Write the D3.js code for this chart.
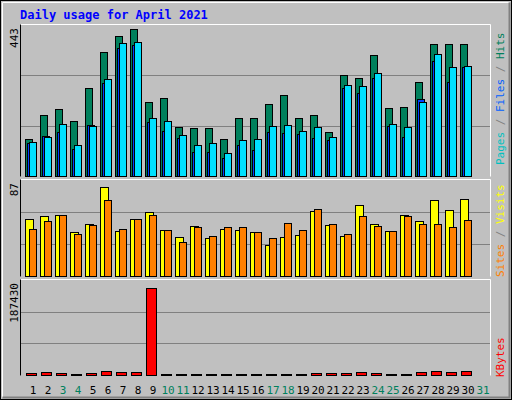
<!DOCTYPE html><html><head><script src="https://cdn.jsdelivr.net/npm/d3@7"></script>
<style>body{margin:0;background:#fff}</style></head><body><svg id="c" width="512" height="400"></svg>
<script>
const days=d3.range(1,32);
const hits=[109,180,197,162,259,365,412,432,218,230,145,142,142,109,171,171,212,239,171,180,130,297,288,356,200,203,277,388,388,388,0];
const files=[101,115,153,92,148,285,391,394,171,162,121,92,98,68,107,109,148,151,133,145,115,268,265,303,153,145,218,359,321,324,0];
const pages=[98,118,130,80,151,274,376,385,159,133,112,71,71,54,92,77,130,127,124,112,107,259,244,288,148,115,227,338,277,321,0];
const visits=[52,54,55,40,47,81,41,52,58,42,35,45,34,43,42,40,28,35,37,59,46,36,64,47,41,55,50,69,60,70,0];
const sites=[43,50,55,38,46,69,43,52,55,42,31,44,36,44,44,40,34,48,42,61,47,38,54,45,41,54,47,47,44,51,0];
const kbytes=[3800,5700,3800,1900,3800,7600,5700,5700,172280,1900,1900,1900,1900,1900,1900,1900,1900,1900,1900,3800,3800,3800,5700,3800,1900,1900,5700,7600,5700,7600,0];
const weekend=[3,4,10,11,17,18,24,25,31];
const maxHits=443,maxVisits=87,maxKB=187430;
const svg=d3.select("#c");
svg.append("rect").attr("width",512).attr("height",400).attr("fill","#c0c0c0");
svg.append("rect").attr("x",0.5).attr("y",0.5).attr("width",511).attr("height",399).attr("fill","none").attr("stroke","#000");
svg.append("path").attr("d","M2.5,397.5V2.5H509.5").attr("fill","none").attr("stroke","#fff");
svg.append("path").attr("d","M2.5,397.5H509.5V2.5").attr("fill","none").attr("stroke","#808080").attr("stroke-width",2);
const F="DejaVu Sans Mono, monospace";
svg.append("text").attr("x",20).attr("y",19).attr("fill","#0000ff").attr("font-family",F).attr("font-weight","bold").attr("font-size",12).text("Daily usage for April 2021");
const x=d3.scaleLinear().domain([0,1]).range([18,33]);
function panel(y0,y1,max){
  const y=d3.scaleLinear().domain([0,max]).range([y1,y0]);
  for(let i=1;i<3;i++) svg.append("line").attr("x1",21).attr("x2",490).attr("y1",Math.round(y(max*i/3))+.5).attr("y2",Math.round(y(max*i/3))+.5).attr("stroke","#808080");
  svg.append("path").attr("d",`M20.5,${y1+0.5}V${y0-0.5}H490.5V${y1+0.5}`).attr("fill","none").attr("stroke","#fff");
  svg.append("path").attr("d",`M20.5,${y1+0.5}V${y0-0.5}`).attr("fill","none").attr("stroke","#000");
  svg.append("text").attr("transform",`translate(18,${y0+3}) rotate(-90)`).attr("text-anchor","end").attr("font-family",F).attr("font-size",11).text(d3.format("d")(max));
  return y;
}
function bars(data,y,off,w,fill){
  svg.append("g").selectAll("rect").data(data.map((v,i)=>[i+1,v]).filter(d=>d[1]>0)).join("rect")
   .attr("x",d=>x(d[0]-1)+off+.5).attr("width",w).attr("y",d=>Math.round(y(d[1]))+.5)
   .attr("height",d=>Math.max(0,y(0)-Math.round(y(d[1])))).attr("fill",fill).attr("stroke","#000");
}
const y1=panel(25,176,maxHits);
bars(hits,y1,7,7,"#00805c");bars(pages,y1,9,7,"#0040ff");bars(files,y1,11,7,"#00e0ff");
const y2=panel(180,276,maxVisits);
bars(visits,y2,7,8,"#ffff00");bars(sites,y2,11,7,"#ff8000");
const y3=panel(280,375,maxKB);
bars(kbytes,y3,8,10,"#ff0000");
svg.append("g").selectAll("text").data(days).join("text").attr("x",d=>x(d)).attr("y",394).attr("text-anchor","middle")
 .attr("font-family",F).attr("font-size",11).attr("fill",d=>weekend.includes(d)?"#00805c":"#000").text(d=>d);
function legend(yb,parts){
  const t=svg.append("text").attr("transform",`translate(504,${yb}) rotate(-90)`).attr("font-family",F).attr("font-size",11);
  parts.forEach(p=>t.append("tspan").attr("fill",p[1]).text(p[0]));
}
legend(165,[["Pages","#00c0c0"],[" / ","#808080"],["Files","#0060ff"],[" / ","#808080"],["Hits","#00805c"]]);
legend(277,[["Sites","#ff8000"],[" / ","#808080"],["Visits","#ffff00"]]);
legend(377,[["KBytes","#ff0000"]]);
</script></body></html>
